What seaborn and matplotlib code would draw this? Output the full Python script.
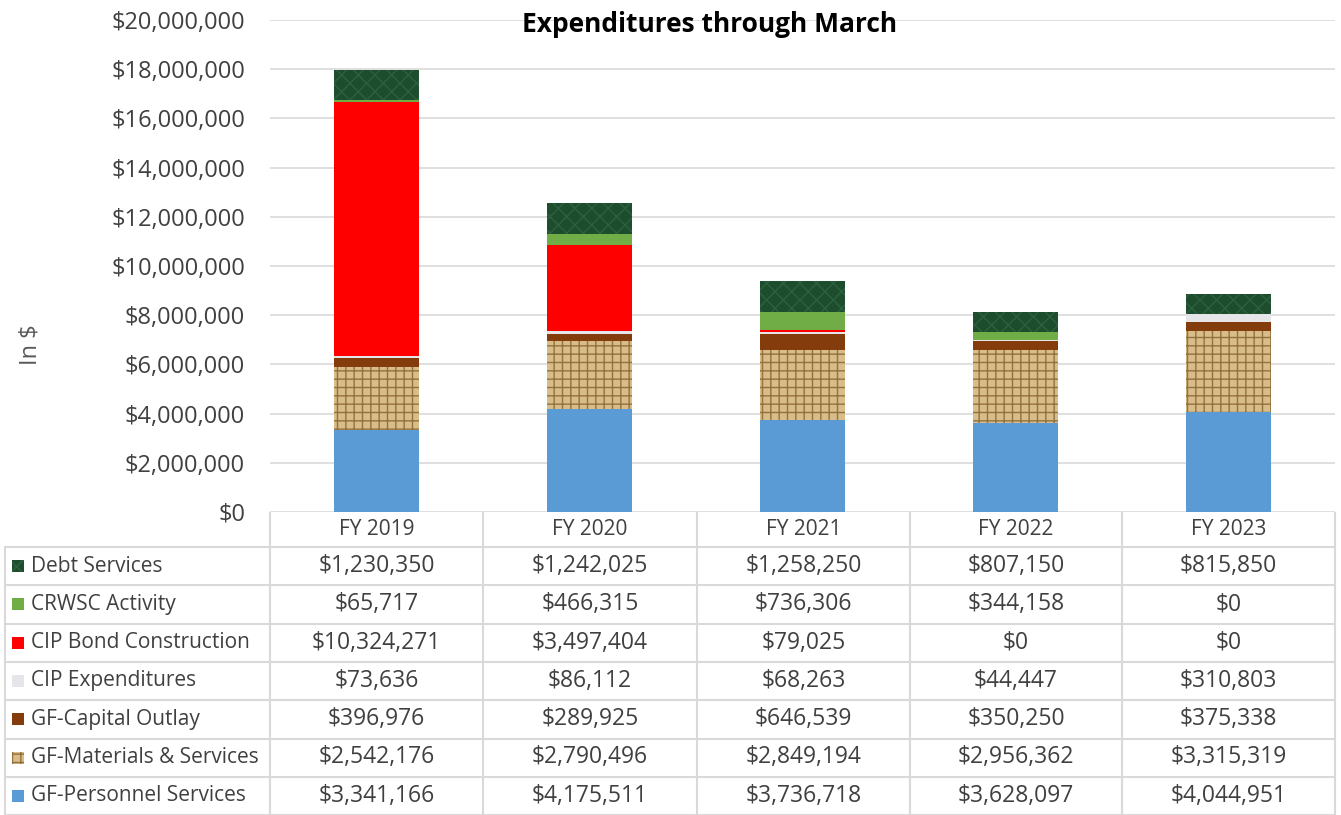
import pandas as pd
import numpy as np
import seaborn as sns
import matplotlib.pyplot as plt
from matplotlib.patches import Rectangle
from matplotlib.ticker import FuncFormatter

years = ['FY 2019', 'FY 2020', 'FY 2021', 'FY 2022', 'FY 2023']
personnel = [3341166, 4175511, 3736718, 3628097, 4044951]
materials = [2542176, 2790496, 2849194, 2956362, 3315319]
capital = [396976, 289925, 646539, 350250, 375338]
cip_exp = [73636, 86112, 68263, 44447, 310803]
cip_bond = [10324271, 3497404, 79025, 0, 0]
crwsc = [65717, 466315, 736306, 344158, 0]
debt = [1230350, 1242025, 1258250, 807150, 815850]

# bottom -> top stacking order
series = ['GF-Personnel Services', 'GF-Materials & Services', 'GF-Capital Outlay',
          'CIP Expenditures', 'CIP Bond Construction', 'CRWSC Activity', 'Debt Services']
values = [personnel, materials, capital, cip_exp, cip_bond, crwsc, debt]
colors = ['#5B9BD5', '#D8BD88', '#843C0C', '#E6E6EA', '#FF0000', '#70AD47', '#1D4D2C']
hatches = [None, '++', None, None, None, None, 'xx']
hatch_cols = ['#5B9BD5', '#94723F', '#843C0C', '#E6E6EA', '#FF0000', '#70AD47', '#2C6140']

df = pd.DataFrame({'year': years})
for name, vals in zip(series, values):
    df[name] = vals
cum = df[series].cumsum(axis=1)

sns.set_style('white')
plt.rcParams['font.family'] = ['Open Sans', 'DejaVu Sans']
plt.rcParams['hatch.linewidth'] = 1.0

W, H = 1341, 815
fig = plt.figure(figsize=(W / 100, H / 100), dpi=100)
ax = fig.add_axes([270 / W, 1 - 512 / H, (1335 - 270) / W, (512 - 20) / H])

# overplot cumulative totals from the top layer down
for i in range(len(series) - 1, -1, -1):
    d = pd.DataFrame({'year': years, 'val': cum[series[i]].values})
    sns.barplot(data=d, x='year', y='val', color=colors[i], width=0.4,
                saturation=1, hatch=hatches[i], edgecolor=hatch_cols[i],
                linewidth=0, ax=ax, zorder=2)

ax.set_ylim(0, 20000000)
ax.set_xlim(-0.5, 4.5)
ax.set_yticks(np.arange(0, 20000001, 2000000))
ax.yaxis.set_major_formatter(FuncFormatter(lambda v, p: f'${v:,.0f}'))
ax.tick_params(axis='y', labelsize=17, colors='#404040', length=0, pad=18)
ax.tick_params(axis='x', labelbottom=False, length=0)
ax.set_xlabel('')
ax.set_ylabel('')
ax.grid(axis='y', color='#D9D9D9', linewidth=1.2, zorder=0)
ax.set_axisbelow(True)
for s in ax.spines.values():
    s.set_visible(False)

fig.text(710 / W, 1 - 25 / H, 'Expenditures through March', ha='center', va='center',
         fontsize=19, fontweight='bold', color='black')
fig.text(30 / W, 1 - 345 / H, 'In $', rotation=90, ha='center', va='center',
         fontsize=17, color='#595959')

# data table below the plot, in pixel coordinates
tab = fig.add_axes([0, 0, 1, 1 - 512 / H])
tab.set_xlim(0, W)
tab.set_ylim(815, 512)
tab.axis('off')
col_edges = [270, 483, 697, 910, 1122, 1335]
grid_c = '#D9D9D9'
for x in col_edges:
    tab.plot([x, x], [512, 815], color=grid_c, lw=1.5)
tab.plot([5, 5], [547, 815], color=grid_c, lw=1.5)
for k in range(8):
    y = 547 + 38.3 * k
    tab.plot([5, 1335], [y, y], color=grid_c, lw=1.5)

for j, yr in enumerate(years):
    xc = (col_edges[j] + col_edges[j + 1]) / 2
    tab.text(xc, 529.5, yr, ha='center', va='center', fontsize=15, color='#404040')

# rows listed top to bottom in the table (reverse of stacking)
for r, i in enumerate(range(len(series) - 1, -1, -1)):
    yc = 547 + 38.3 * r + 19
    tab.add_patch(Rectangle((12, yc - 6), 12, 12, facecolor=colors[i],
                            hatch=hatches[i], edgecolor=hatch_cols[i], lw=0))
    tab.text(31, yc, series[i], ha='left', va='center', fontsize=15, color='#404040')
    for j in range(len(years)):
        xc = (col_edges[j] + col_edges[j + 1]) / 2
        tab.text(xc, yc, f'${values[i][j]:,.0f}', ha='center', va='center',
                 fontsize=16.5, color='#404040')

plt.savefig('out.png', dpi=100)
